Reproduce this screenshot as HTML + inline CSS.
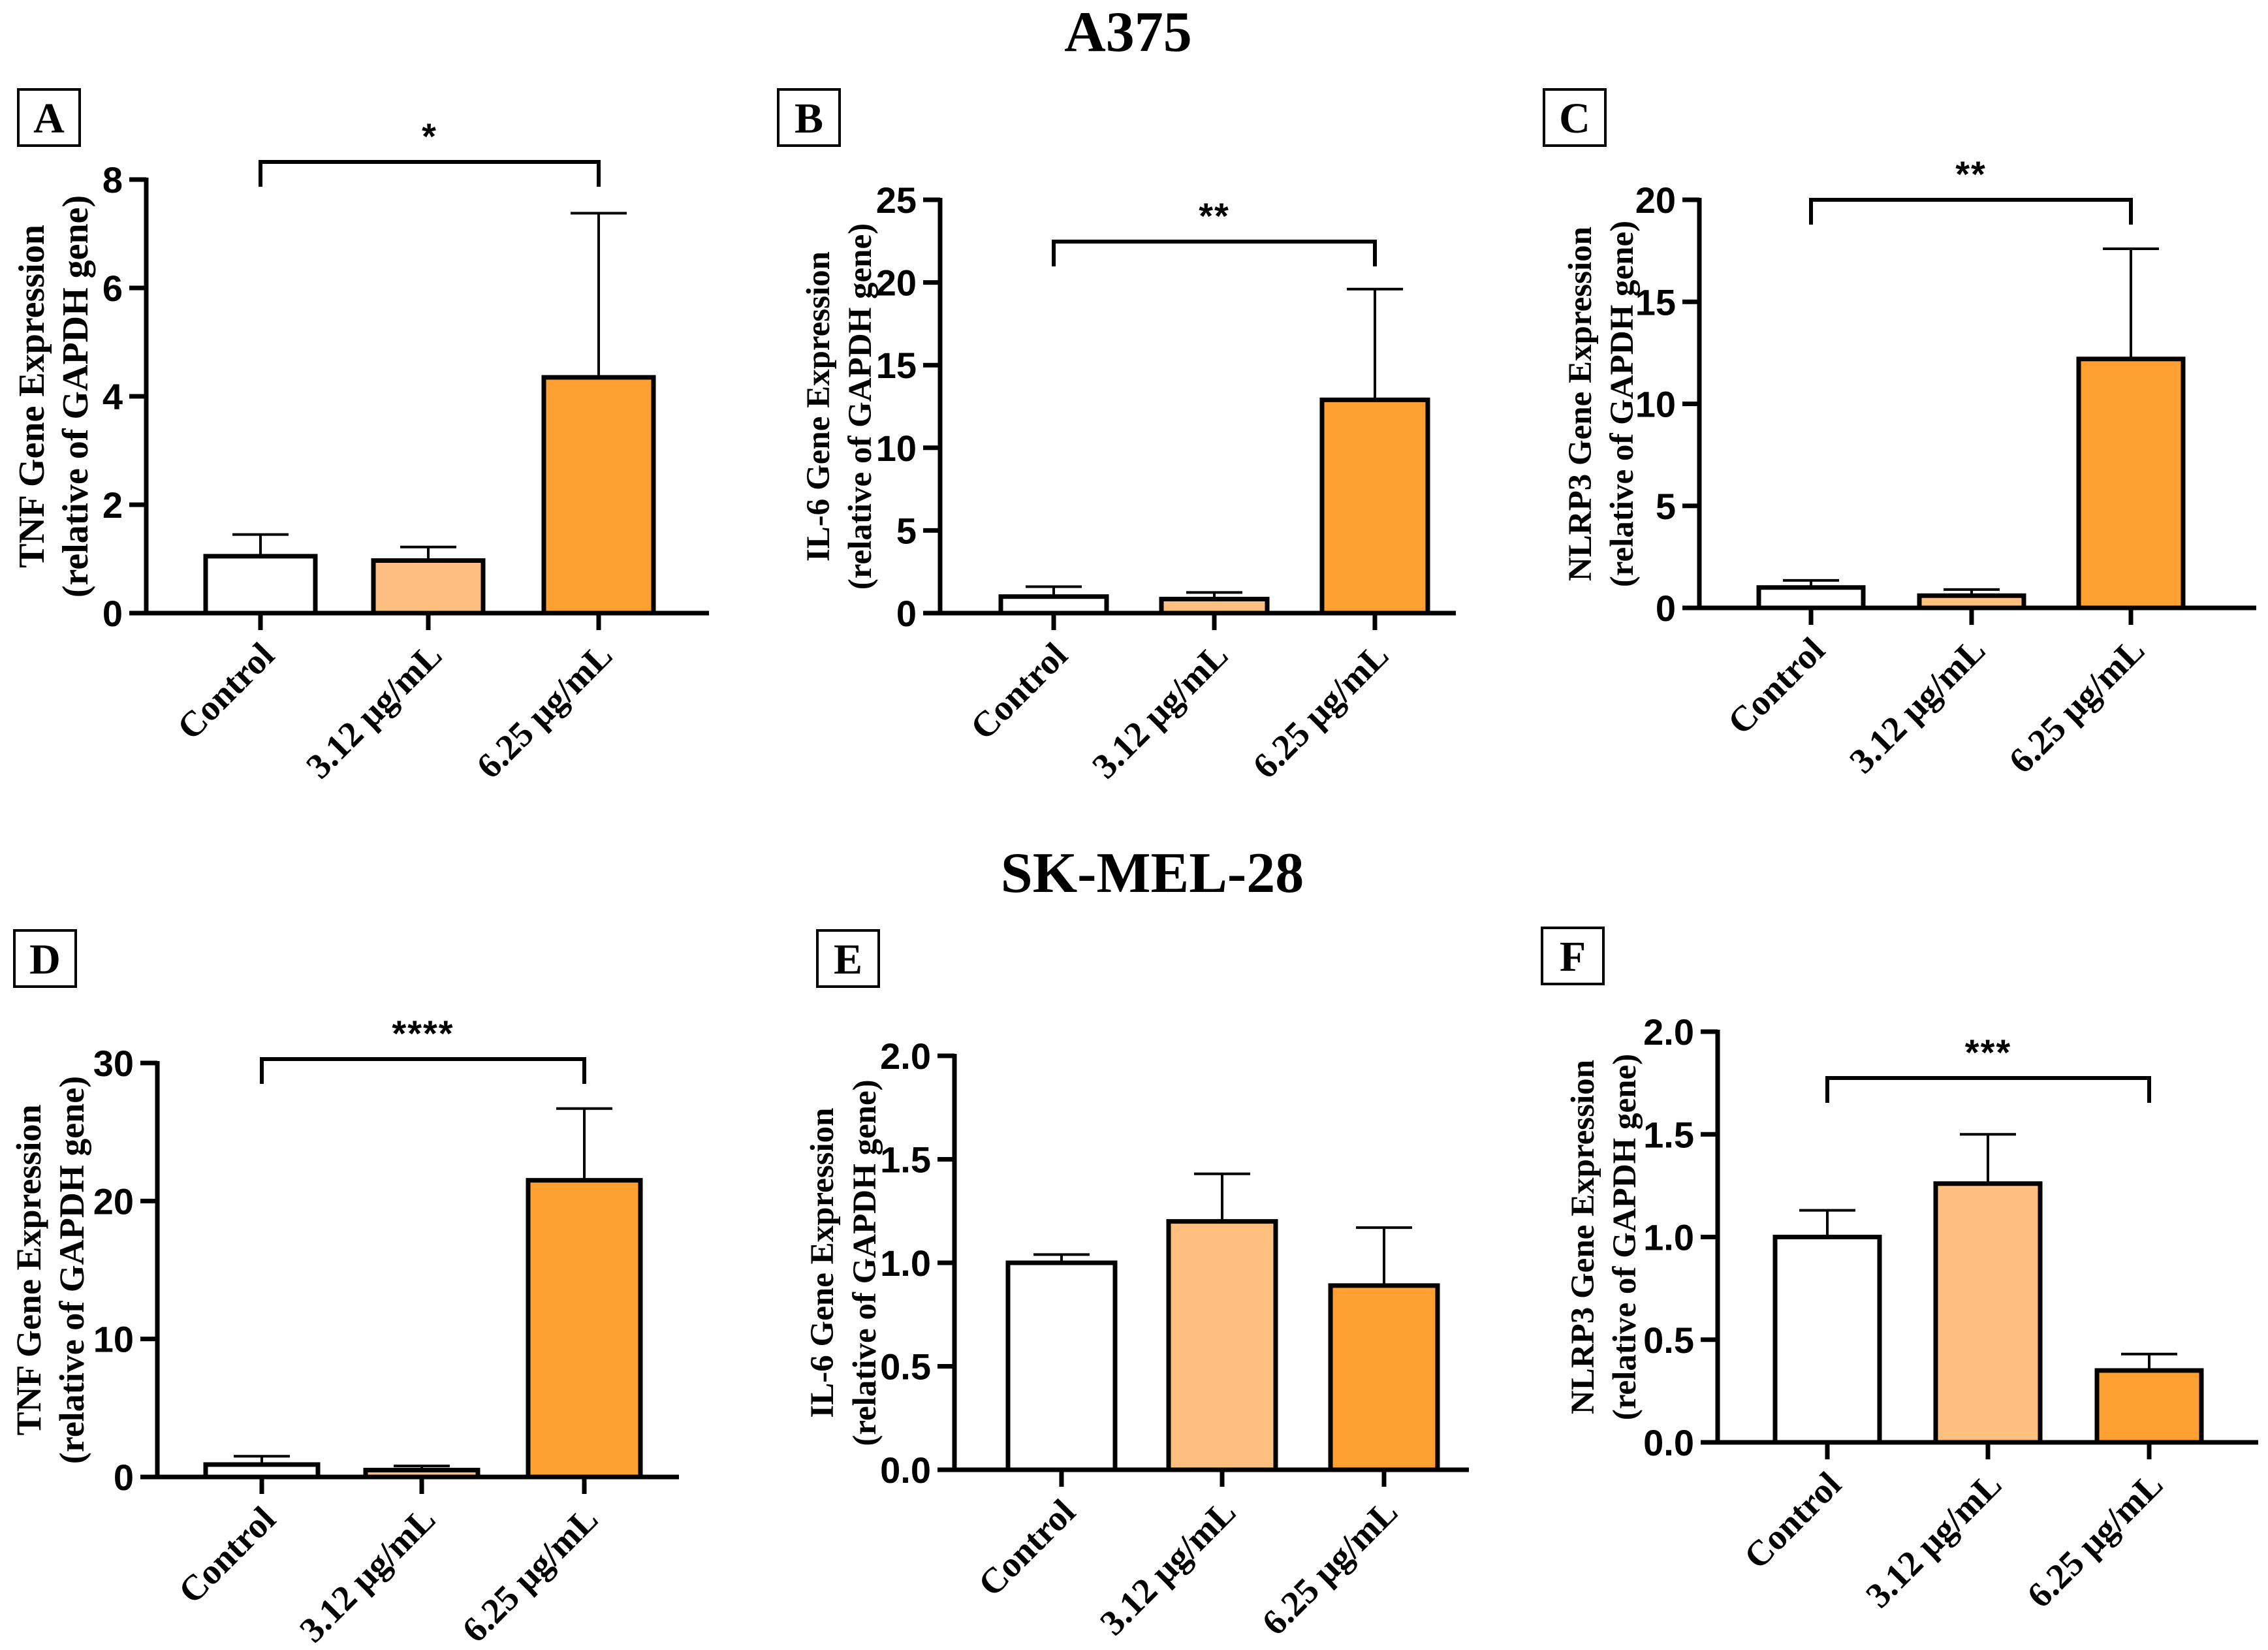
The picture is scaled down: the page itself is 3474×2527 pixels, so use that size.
<!DOCTYPE html>
<html><head><meta charset="utf-8"><style>
body{margin:0;background:#fff}
svg{display:block}
.tk{font-family:"Liberation Sans",Arial,sans-serif;font-weight:bold;font-size:56px}
.tm{font-family:"Liberation Serif","Times New Roman",serif;font-weight:bold}
</style></head><body>
<svg id="fig" width="3474" height="2527" viewBox="0 0 3474 2527" xmlns="http://www.w3.org/2000/svg">
<rect width="3474" height="2527" fill="#fff"/>
<text class="tm" x="1728" y="78" font-size="88" text-anchor="middle">A375</text>
<text class="tm" x="1765" y="1366" font-size="88" text-anchor="middle">SK-MEL-28</text>
</svg>
<script>
const categories = ["Control", "3.12 μg/mL", "6.25 μg/mL"];
const panelLetters = ["A","B","C","D","E","F"];
const genes = ["TNF","IL-6","NLRP3","TNF","IL-6","NLRP3"];
const meansA = [1.05, 0.97, 4.35];
const errA = [1.45, 1.22, 7.38];
const meansB = [1.0, 0.85, 12.9];
const errB = [1.6, 1.25, 19.6];
const meansC = [1.0, 0.6, 12.2];
const errC = [1.35, 0.9, 17.6];
const meansD = [0.9, 0.5, 21.5];
const errD = [1.5, 0.8, 26.7];
const meansE = [1.0, 1.2, 0.89];
const errE = [1.04, 1.43, 1.17];
const meansF = [1.0, 1.26, 0.35];
const errF = [1.13, 1.5, 0.43];
const ticksA = [0,2,4,6,8];
const ticksB = [0,5,10,15,20,25];
const ticksC = [0,5,10,15,20];
const ticksD = [0,10,20,30];
const ticksE = ["0.0","0.5","1.0","1.5","2.0"];
const ticksF = ["0.0","0.5","1.0","1.5","2.0"];
const sigLabels = ["*","**","**","****","","***"];

const colors = ["#ffffff","#ffc07f","#ffa033"];
const svg = document.getElementById('fig');
const NS = "http://www.w3.org/2000/svg";
function mk(tag, attrs, parent){const e=document.createElementNS(NS,tag);for(const k in attrs)e.setAttribute(k,attrs[k]);(parent||svg).appendChild(e);return e;}

const layouts = [
 {ax:224, yt:275, yb:939, bars:[315,572,833], bw:168, xe:1086, br:248, box:[28,137], t1:-175, t2:-108, fs:56},
 {ax:1440, yt:306, yb:939, bars:[1533,1779,2025], bw:162, xe:2230, br:370, box:[1192,137], t1:-188, t2:-124, fs:51},
 {ax:2603, yt:306, yb:931, bars:[2694,2940,3184], bw:160, xe:3456, br:306, box:[2365,137], t1:-184, t2:-120, fs:51},
 {ax:241, yt:1628, yb:2262, bars:[315,560,809], bw:172, xe:1040, br:1622, box:[22,1425], t1:-197, t2:-131, fs:54},
 {ax:1462, yt:1617, yb:2251, bars:[1544,1790,2038], bw:164, xe:2250, br:0, box:[1252,1425], t1:-204, t2:-139, fs:51},
 {ax:2631, yt:1580, yb:2209, bars:[2719,2965,3212], bw:160, xe:3459, br:1651, box:[2362,1421], t1:-208, t2:-144, fs:51}
];
const allMeans=[meansA,meansB,meansC,meansD,meansE,meansF];
const allErr=[errA,errB,errC,errD,errE,errF];
const allTicks=[ticksA,ticksB,ticksC,ticksD,ticksE,ticksF];

layouts.forEach((L,p)=>{
  const ticks=allTicks[p];
  const tmax=parseFloat(ticks[ticks.length-1]);
  const y=v=>L.yb-(v/tmax)*(L.yb-L.yt);
  const g=mk('g',{});
  
  
  const bx=mk('rect',{x:L.box[0],y:L.box[1],width:94,height:86,fill:'#fff',stroke:'#000','stroke-width':4},g);
  
  
  const bt=mk('text',{x:L.box[0]+47,y:L.box[1]+66,'font-size':66,'text-anchor':'middle',class:'tm'},g);
  bt.textContent=panelLetters[p];
  
  
  categories.forEach((c,i)=>{
    const m=allMeans[p][i], e=allErr[p][i];
    const cx=L.bars[i]+L.bw/2;
    const el=mk('line',{x1:cx,x2:cx,y1:y(m),y2:y(e),stroke:'#000','stroke-width':4},g);
    
    
    const cap=mk('line',{x1:cx-43,x2:cx+43,y1:y(e),y2:y(e),stroke:'#000','stroke-width':4},g);
    
    
    const r=mk('rect',{x:L.bars[i],y:y(m),width:L.bw,height:L.yb-y(m),fill:colors[i],stroke:'#000','stroke-width':7},g);
    
    
    const tk=mk('line',{x1:cx,x2:cx,y1:L.yb,y2:L.yb+26,stroke:'#000','stroke-width':7},g);
    
    
    const tx=cx+24, ty=L.yb+68;
    const t=mk('text',{x:tx,y:ty,'font-size':55,'text-anchor':'end',class:'tm',transform:`rotate(-45 ${tx} ${ty})`},g);
    t.textContent=c;
    
    
  });
  const ya=mk('line',{x1:L.ax,x2:L.ax,y1:L.yt-3,y2:L.yb+3,stroke:'#000','stroke-width':7},g);
  
  
  const xa=mk('line',{x1:L.ax-3,x2:L.xe,y1:L.yb,y2:L.yb,stroke:'#000','stroke-width':7},g);
  
  
  ticks.forEach(tv=>{
    const v=parseFloat(tv);
    const l=mk('line',{x1:L.ax-26,x2:L.ax,y1:y(v),y2:y(v),stroke:'#000','stroke-width':7},g);
    
    
    const t=mk('text',{x:L.ax-36,y:y(v)+20,'text-anchor':'end',class:'tk'},g);
    t.textContent=tv;
    
    
  });
  const my=(L.yt+L.yb)/2;
  const t1=mk('text',{x:L.ax+L.t1,y:my,'font-size':L.fs,'text-anchor':'middle',class:'tm',transform:`rotate(-90 ${L.ax+L.t1} ${my})`,dy:18},g);
  t1.textContent=genes[p]+' Gene Expression';
  
  
  const t2=mk('text',{x:L.ax+L.t2,y:my,'font-size':L.fs,'text-anchor':'middle',class:'tm',transform:`rotate(-90 ${L.ax+L.t2} ${my})`,dy:18},g);
  t2.textContent='(relative of GAPDH gene)';
  
  
  if(sigLabels[p]){
    const x1=L.bars[0]+L.bw/2, x2=L.bars[2]+L.bw/2;
    const b=mk('polyline',{points:`${x1},${L.br+38} ${x1},${L.br} ${x2},${L.br} ${x2},${L.br+38}`,fill:'none',stroke:'#000','stroke-width':6},g);
    
    
    const s=mk('text',{x:(x1+x2)/2,y:L.br-20,'font-size':170,'text-anchor':'middle',class:'tk','letter-spacing':'2'},g);
    s.textContent=sigLabels[p];
    
    
  }
});
</script>
</body></html>
